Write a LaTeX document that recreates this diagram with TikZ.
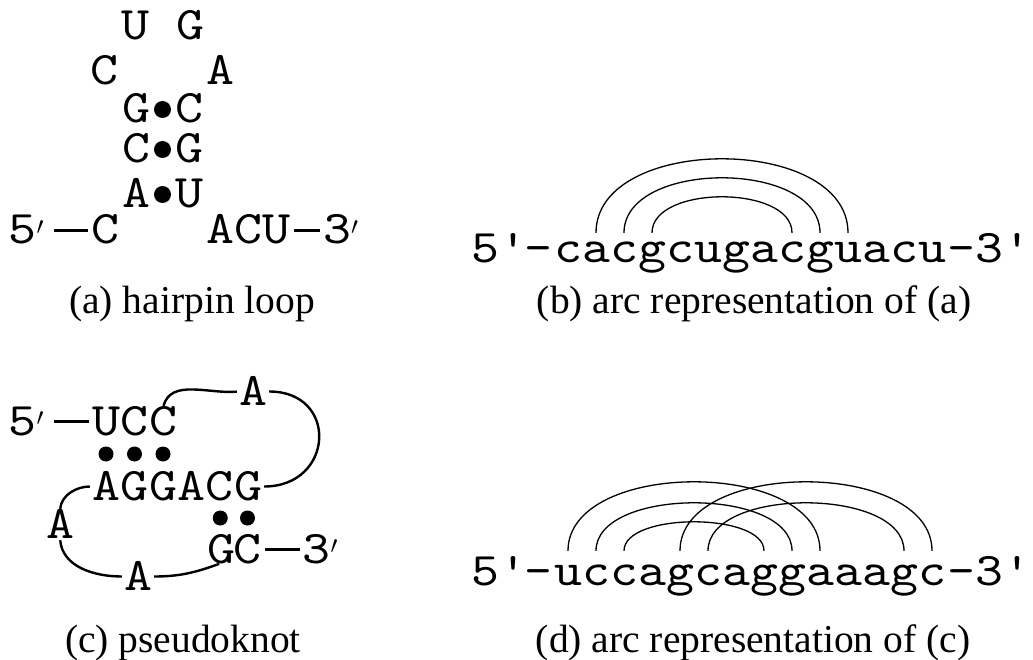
\documentclass[tikz,border=0pt]{standalone}
\usepackage{fontspec}
\usetikzlibrary{calc}
\newfontfamily\seqfont[FakeStretch=1.14]{lmmono10-regular.otf}
\newfontfamily\capfont{Liberation Serif}
\newcommand\seqsize{\seqfont\fontsize{46.7}{50}\selectfont}

\begin{document}
\begin{tikzpicture}[x=1pt, y=1pt,
    nt/.style = {font=\seqsize, inner sep=0pt, text height=27pt, text depth=0pt, anchor=base},
    lc/.style = {nt, text height=29pt},
    pairdot/.style = {circle, fill, inner sep=0pt, minimum size=#1},
    bond/.style = {line width=2.6pt, shorten <=4pt, shorten >=3pt},
    strand/.style = {line width=2.4pt, shorten <=2pt, shorten >=2pt},
    pairarc/.style = {line width=1.3pt},
    subcap/.style = {font=\capfont\fontsize{39.5}{44}\selectfont, anchor=base}]
  \useasboundingbox (0,0) rectangle (1033,-660);

  % (a) hairpin
  \foreach \n/\s/\x/\y in {1/C/105/244, 2/A/136/208, 3/C/136/163, 4/G/136/123,
      5/C/104/85, 6/U/135/40, 7/G/190/40, 8/A/220/85, 9/C/189/123, 10/G/189/163,
      11/U/189/208, 12/A/220/244, 13/C/248/244, 14/U/276/244}
    \node[nt] (h\n) at (\x,-\y) {\s};
  \node[nt, anchor=base west] (h5p) at (8.5,-244) {5$'$};
  \node[nt, anchor=base west] (h3p) at (323,-244) {3$'$};
  \draw[bond, shorten <=10pt] (h5p.east) -- (h1.west);
  \draw[bond] (h14.east) -- (h3p.west);
  \foreach \l/\r in {2/11, 3/10, 4/9}
    \node[pairdot=17pt] (hd\l) at ($(h\l)!0.5!(h\r)$) {};
  \node[subcap] (capa) at (192,-313) {(a) hairpin loop};

  % (b) arcs of the hairpin
  \node[nt] (b5p) at (512,-262) {5\textquotesingle-};
  \foreach \s [count=\i] in {c,a,c,g,c,u,g,a,c,g,u,a,c,u}
    \node[lc] (b\i) at (540+28*\i,-262) {\s};
  \node[nt] (b3p) at (988,-262) {-3\textquotesingle};
  \foreach \l/\r/\h in {2/11/74, 3/10/55, 4/9/36}
    \draw[pairarc] (b\l.north) .. controls +(0,4*\h/3) and +(0,4*\h/3) .. (b\r.north);
  \node[subcap] (capb) at (754,-313) {(b) arc representation of (a)};

  % (c) pseudoknot
  \foreach \n/\s/\x/\y in {1/U/106/435, 2/C/134.5/435, 3/C/163/435, 4/A/253/405,
      5/G/248/500, 6/C/219.5/500, 7/A/191/500, 8/G/163/500, 9/G/134.5/500,
      10/A/106/500, 11/A/60/538, 12/A/138/590, 13/G/221/563, 14/C/247/563}
    \node[nt] (k\n) at (\x,-\y) {\s};
  \node[nt, anchor=base west] (k5p) at (8.5,-435) {5$'$};
  \node[nt, anchor=base west] (k3p) at (302.5,-563) {3$'$};
  \draw[bond, shorten <=10pt] (k5p.east) -- (k1.west);
  \draw[bond] (k14.east) -- (k3p.west);
  \foreach \l/\r in {1/10, 2/9, 3/8, 6/13, 5/14}
    \node[pairdot=15pt] (kd\l) at ($(k\l)!0.5!(k\r)$) {};
  \draw[strand] (k3.north) to[out=75, in=185] (k4.west);
  \draw[strand] (k4.east) .. controls +(72,0) and +(72,0) .. (k5.east);
  \draw[strand] (k10.west) to[out=180, in=85] (k11.north);
  \draw[strand] (k11.south) to[out=-85, in=180] (k12.west);
  \draw[strand] (k12.east) to[out=0, in=200] (k13.south);
  \node[subcap] (capc) at (183,-652) {(c) pseudoknot};

  % (d) arcs of the pseudoknot
  \node[nt] (d5p) at (512,-585) {5\textquotesingle-};
  \foreach \s [count=\i] in {u,c,c,a,g,c,a,g,g,a,a,a,g,c}
    \node[lc, text height=34pt] (d\i) at (540+28*\i,-585) {\s};
  \node[nt] (d3p) at (988,-585) {-3\textquotesingle};
  \foreach \l/\r/\h in {1/10/69, 2/9/48, 3/8/29, 5/14/69, 6/13/48}
    \draw[pairarc] (d\l.north) .. controls +(0,4*\h/3) and +(0,4*\h/3) .. (d\r.north);
  \node[subcap] (capd) at (753,-652) {(d) arc representation of (c)};
\end{tikzpicture}
\end{document}
